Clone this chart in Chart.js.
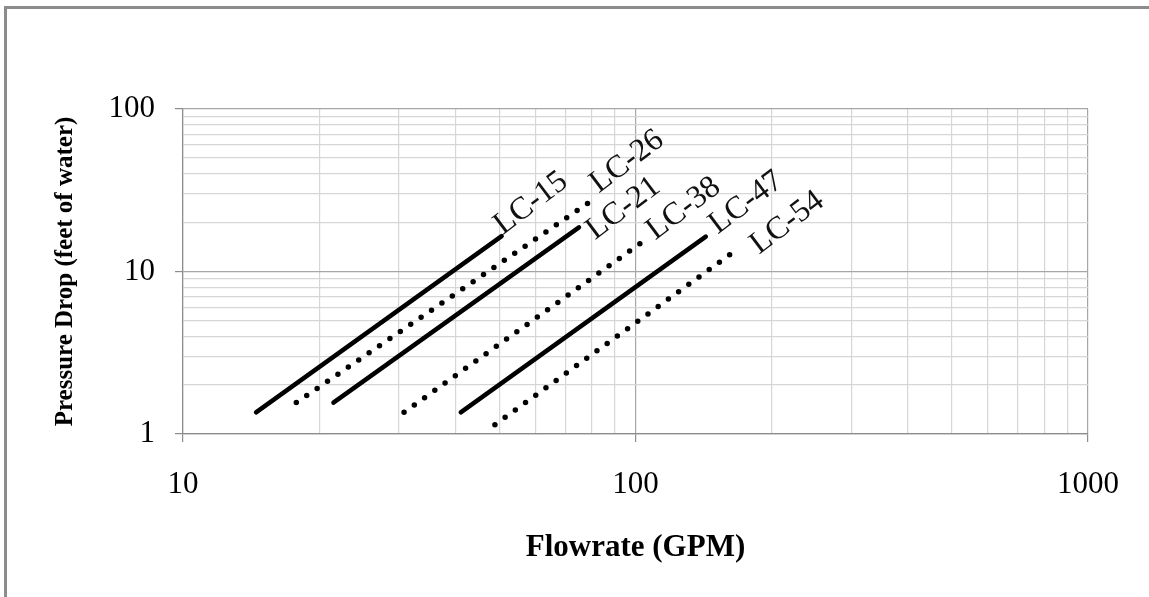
<!DOCTYPE html>
<html>
<head>
<meta charset="utf-8">
<title>Pressure Drop vs Flowrate</title>
<script src="https://cdn.jsdelivr.net/npm/chart.js@4.4.1/dist/chart.umd.min.js"></script>
<style>
  html, body { margin: 0; padding: 0; background: #fff; }
  #wrap { position: relative; width: 1149px; height: 597px; overflow: hidden; }
  #frame { position: absolute; left: 4px; top: 6px; width: 1200px; height: 700px;
           border-top: 3px solid #8c8c8c; border-left: 3px solid #8c8c8c; }
  #pressureChart { position: absolute; left: 0; top: 0; }
</style>
</head>
<body>
<div id="wrap">
  <div id="frame"></div>
  <canvas id="pressureChart" width="1149" height="597"></canvas>
</div>
<script>
// series: each model is a straight run on log-log paper
const seriesNames = ['LC-15', 'LC-26', 'LC-21', 'LC-38', 'LC-47', 'LC-54'];
const flowStart = [14.5, 17.8, 21.5, 30.8, 41.1, 48.9];
const flowEnd   = [50.6, 80.0, 75.0, 104.6, 143, 165];
const dropStart = [1.36, 1.56, 1.56, 1.36, 1.36, 1.14];
const dropEnd   = [16.5, 27.3, 18.7, 15.5, 16.4, 13.25];
const xTickLabels = [10, 100, 1000];
const yTickLabels = [1, 10, 100];

// styling
const dotted = [false, true, false, true, false, true];
const labelOffsets = [[1, -1], [7, -7], [16, 13], [11, 0], [12, -2], [25, 3]];
const serif = '"Liberation Serif", "Times New Roman", serif';

function isLabelled(value, list) {
    return list.some(v => Math.abs(v - value) < 1e-9);
}

// plain 1..9 x 10^n grid, like log paper
function logPaperTicks(scale) {
    const ticks = [];
    const lo = Math.round(Math.log10(scale.min));
    const hi = Math.round(Math.log10(scale.max));
    for (let e = lo; e < hi; e++) {
        for (let k = 1; k <= 9; k++) {
            ticks.push({ value: k * Math.pow(10, e) });
        }
    }
    ticks.push({ value: Math.pow(10, hi) });
    scale.ticks = ticks;
}

const datasets = seriesNames.map((name, i) => ({
    label: name,
    data: [
        { x: flowStart[i], y: dropStart[i] },
        { x: flowEnd[i], y: dropEnd[i] }
    ],
    borderColor: '#000',
    borderWidth: dotted[i] ? 5.5 : 4.5,
    borderDash: dotted[i] ? [0, 12.6] : [],
    borderCapStyle: 'round',
    pointRadius: 0,
    fill: false
}));

// curve names written at the upper end of each line
const curveLabels = {
    id: 'curveLabels',
    afterDatasetsDraw(chart) {
        const ctx = chart.ctx;
        ctx.save();
        ctx.font = '32px ' + serif;
        ctx.fillStyle = '#111';
        ctx.textBaseline = 'alphabetic';
        ctx.textAlign = 'left';
        chart.data.datasets.forEach((ds, i) => {
            const meta = chart.getDatasetMeta(i);
            const last = meta.data[meta.data.length - 1];
            const off = labelOffsets[i];
            ctx.save();
            ctx.translate(last.x + off[0], last.y + off[1]);
            ctx.rotate(-37 * Math.PI / 180);
            ctx.fillText(ds.label, 0, 0);
            ctx.restore();
        });
        ctx.restore();
    }
};

function gridColor(list) {
    return ctx => (ctx.tick && isLabelled(ctx.tick.value, list)) ? '#a6a6a6' : '#d6d6d6';
}
function tickColor(list) {
    return ctx => (ctx.tick && isLabelled(ctx.tick.value, list)) ? '#8c8c8c' : 'rgba(0,0,0,0)';
}

new Chart(document.getElementById('pressureChart').getContext('2d'), {
    type: 'line',
    data: { datasets: datasets },
    options: {
        responsive: false,
        animation: false,
        layout: { padding: { top: 109, right: 61, left: 0, bottom: 0 } },
        scales: {
            x: {
                type: 'logarithmic',
                min: 10,
                max: 1000,
                afterBuildTicks: logPaperTicks,
                afterFit(scale) { scale.height = 163; },
                grid: {
                    color: gridColor(xTickLabels),
                    tickColor: tickColor(xTickLabels),
                    tickLength: 8,
                    lineWidth: 1.2
                },
                border: { color: '#8c8c8c', width: 1.2 },
                ticks: {
                    autoSkip: false,
                    maxRotation: 0,
                    padding: 24,
                    color: '#000',
                    font: { family: serif, size: 31 },
                    callback: value => isLabelled(value, xTickLabels) ? String(value) : ''
                },
                title: {
                    display: true,
                    text: 'Flowrate (GPM)',
                    color: '#000',
                    font: { family: serif, size: 31, weight: 'bold' },
                    padding: { top: 0, bottom: 30 }
                }
            },
            y: {
                type: 'logarithmic',
                min: 1,
                max: 100,
                afterBuildTicks: logPaperTicks,
                afterFit(scale) { scale.width = 183; },
                grid: {
                    color: gridColor(yTickLabels),
                    tickColor: tickColor(yTickLabels),
                    tickLength: 8,
                    lineWidth: 1.2
                },
                border: { color: '#8c8c8c', width: 1.2 },
                ticks: {
                    autoSkip: false,
                    padding: 20,
                    color: '#000',
                    font: { family: serif, size: 31 },
                    callback: value => isLabelled(value, yTickLabels) ? String(value) : ''
                },
                title: {
                    display: true,
                    text: 'Pressure Drop (feet of water)',
                    color: '#000',
                    font: { family: serif, size: 25, weight: 'bold' },
                    padding: { top: 51, bottom: 0 }
                }
            }
        },
        plugins: {
            legend: { display: false },
            tooltip: { enabled: false }
        }
    },
    plugins: [curveLabels]
});
</script>
</body>
</html>
